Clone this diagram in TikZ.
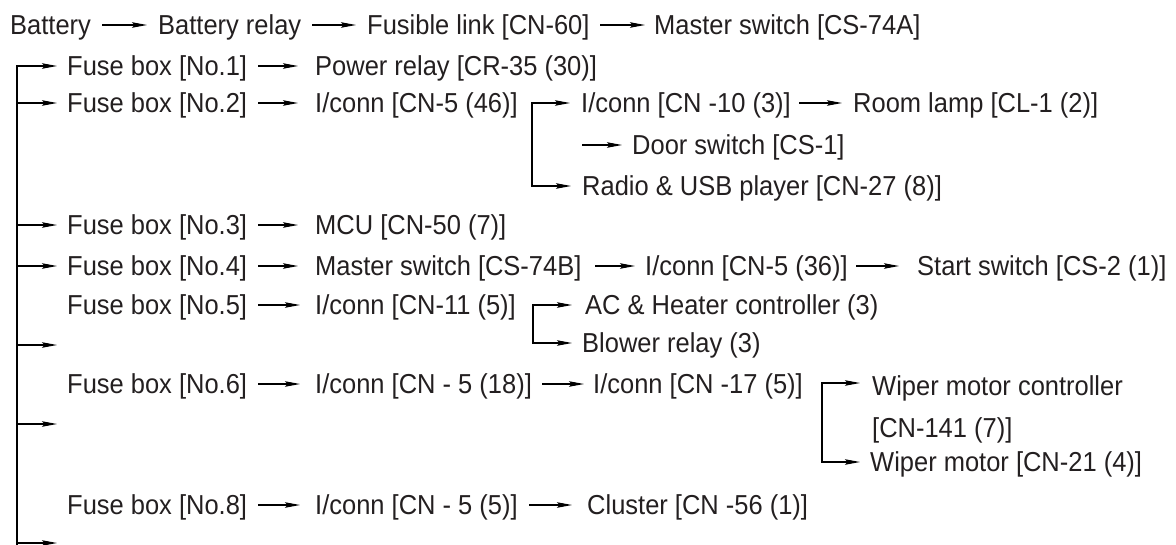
\documentclass[tikz,border=0pt]{standalone}
\usepackage{fontspec}
\setmainfont{Liberation Sans}[FakeStretch=0.93]
\usetikzlibrary{arrows.meta}
\definecolor{txt}{HTML}{231F20}
\tikzset{
  lbl/.style={anchor=west, inner sep=0pt, text height=19.6pt, text depth=0pt,
    font=\fontsize{27.4}{32}\selectfont, text=txt},
  arr/.style={draw=black, line width=1.1pt, line cap=rect,
    -{Stealth[length=15pt,width=5.5pt,inset=2.5pt]},
    shorten <=11pt, shorten >=11pt},
  trk/.style={draw=black, line width=1.1pt, line cap=rect}
}
\begin{document}
\begin{tikzpicture}[x=1pt,y=-1pt]
\useasboundingbox (0,0) rectangle (1176,544);
% row 1
\node[lbl] (battery) at (10,25) {Battery};
\node[lbl] (brelay) at (158,25) {Battery relay};
\node[lbl] (fusible) at (367,25) {Fusible link [CN-60]};
\node[lbl] (msA) at (654,25) {Master switch [CS-74A]};
\draw[arr] (battery.east) -- (brelay.west);
\draw[arr] (brelay.east) -- (fusible.west);
\draw[arr, shorten >=9pt] (fusible.east) -- (msA.west);
% trunk coordinates
\coordinate (t1) at (17,66);
\coordinate (t2) at (17,103);
\coordinate (t3) at (17,225);
\coordinate (t4) at (17,266);
\coordinate (t5) at (17,345);
\coordinate (e5) at (57,345);
\coordinate (t6) at (17,424);
\coordinate (e6) at (57,424);
\coordinate (t7) at (17,543);
\coordinate (e7) at (57,543);
\coordinate (tb) at (17,560);
% fuse boxes
\node[lbl] (fb1) at (67,66) {Fuse box [No.1]};
\node[lbl] (fb2) at (67,103) {Fuse box [No.2]};
\node[lbl] (fb3) at (67,225) {Fuse box [No.3]};
\node[lbl] (fb4) at (67,266) {Fuse box [No.4]};
\node[lbl] (fb5) at (67,305) {Fuse box [No.5]};
\node[lbl] (fb6) at (67,384) {Fuse box [No.6]};
\node[lbl] (fb8) at (67,505) {Fuse box [No.8]};
\draw[arr, shorten <=0pt, shorten >=10pt] (tb) -- (t1) -- (fb1.west);
\draw[arr, shorten <=0pt, shorten >=10pt] (t2) -- (fb2.west);
\draw[arr, shorten <=0pt, shorten >=10pt] (t3) -- (fb3.west);
\draw[arr, shorten <=0pt, shorten >=10pt] (t4) -- (fb4.west);
\draw[arr, shorten <=0pt, shorten >=0pt] (t5) -- (e5);
\draw[arr, shorten <=0pt, shorten >=0pt] (t6) -- (e6);
\draw[arr, shorten <=0pt, shorten >=0pt] (t7) -- (e7);
% row 2
\node[lbl] (power) at (315,66) {Power relay [CR-35 (30)]};
\draw[arr, shorten >=17pt] (fb1.east) -- (power.west);
% row 3
\node[lbl] (cn5a) at (315,103) {I/conn [CN-5 (46)]};
\draw[arr, shorten >=17pt] (fb2.east) -- (cn5a.west);
\coordinate (b1t) at (532,103);
\coordinate (b1b) at (532,186);
\node[lbl] (cn10) at (581,103) {I/conn [CN -10 (3)]};
\node[lbl] (room) at (853,103) {Room lamp [CL-1 (2)]};
\node[lbl] (door) at (632,145) {Door switch [CS-1]};
\node[lbl] (radio) at (582,186) {Radio \& USB player [CN-27 (8)]};
\coordinate (d0) at (583,145);
\draw[arr, shorten <=0pt] (b1b) -- (b1t) -- (cn10.west);
\draw[arr, shorten <=0pt] (b1b) -- (radio.west);
\draw[arr, shorten <=0pt, shorten >=10pt] (d0) -- (door.west);
\draw[arr, shorten <=9pt] (cn10.east) -- (room.west);
% fuse 3
\node[lbl] (mcu) at (315,225) {MCU [CN-50 (7)]};
\draw[arr, shorten >=17pt] (fb3.east) -- (mcu.west);
% fuse 4
\node[lbl] (msB) at (315,266) {Master switch [CS-74B]};
\node[lbl] (cn5b) at (645,266) {I/conn [CN-5 (36)]};
\node[lbl] (start) at (917,266) {Start switch [CS-2 (1)]};
\draw[arr, shorten >=17pt] (fb4.east) -- (msB.west);
\draw[arr, shorten <=14pt, shorten >=10pt] (msB.east) -- (cn5b.west);
\draw[arr, shorten <=9pt, shorten >=18pt] (cn5b.east) -- (start.west);
% fuse 5
\node[lbl] (cn11) at (315,305) {I/conn [CN-11 (5)]};
\coordinate (b2t) at (533,305);
\coordinate (b2b) at (533,343);
\node[lbl] (ac) at (585,305) {AC \& Heater controller (3)};
\node[lbl] (blower) at (582,343) {Blower relay (3)};
\draw[arr, shorten >=15pt] (fb5.east) -- (cn11.west);
\draw[arr, shorten <=0pt, shorten >=13pt] (b2b) -- (b2t) -- (ac.west);
\draw[arr, shorten <=0pt, shorten >=10pt] (b2b) -- (blower.west);
% fuse 6
\node[lbl] (cn5c) at (315,384) {I/conn [CN - 5 (18)]};
\node[lbl] (cn17) at (593,384) {I/conn [CN -17 (5)]};
\coordinate (b3t) at (822,383);
\coordinate (b3b) at (822,462);
\node[lbl] (wmc) at (872,386) {Wiper motor controller};
\node[lbl] (cn141) at (872,428) {[CN-141 (7)]};
\node[lbl] (wm) at (870,462) {Wiper motor [CN-21 (4)]};
\draw[arr, shorten >=15pt] (fb6.east) -- (cn5c.west);
\draw[arr, shorten <=10pt, shorten >=9pt] (cn5c.east) -- (cn17.west);
\draw[arr, shorten <=0pt, shorten >=12pt] (b3b) -- (b3t) -- (wmc.west |- b3t);
\draw[arr, shorten <=0pt, shorten >=10pt] (b3b) -- (wm.west);
% fuse 8
\node[lbl] (cn5d) at (315,505) {I/conn [CN - 5 (5)]};
\node[lbl] (cluster) at (587,505) {Cluster [CN -56 (1)]};
\draw[arr, shorten >=15pt] (fb8.east) -- (cn5d.west);
\draw[arr, shorten <=12pt, shorten >=15pt] (cn5d.east) -- (cluster.west);
\end{tikzpicture}
\end{document}
